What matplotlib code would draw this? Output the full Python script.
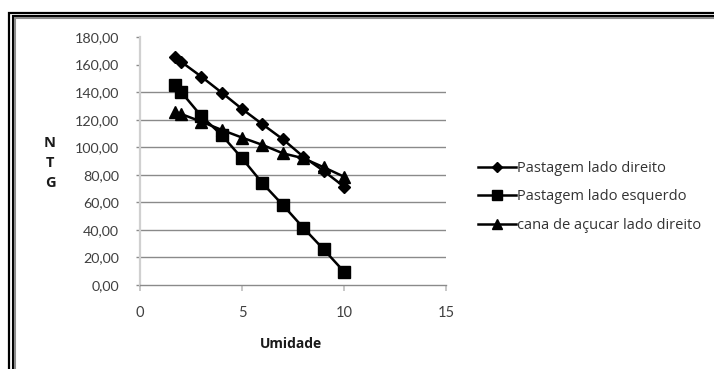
import matplotlib
matplotlib.use("Agg")
import matplotlib.pyplot as plt
from matplotlib.lines import Line2D

plt.rcParams['font.family'] = ['Lato', 'DejaVu Sans']

umidade = [1.7, 2, 3, 4, 5, 6, 7, 8, 9, 10]
pastagem_direito = [165.8, 162.2, 151.3, 139.7, 127.8, 116.7, 105.8, 93.2, 82.8, 71.4]
pastagem_esquerdo = [145.2, 140.4, 122.7, 108.9, 92.0, 73.9, 58.1, 41.6, 25.9, 9.7]
cana_direito = [125.9, 124.2, 118.6, 112.6, 107.0, 101.7, 95.6, 92.0, 85.5, 78.6]
series_names = ["Pastagem lado direito", "Pastagem lado esquerdo", "cana de açucar lado direito"]
y_ticks = [0, 20, 40, 60, 80, 100, 120, 140, 160, 180]
x_ticks = [0, 5, 10, 15]

W, H = 714, 369
fig = plt.figure(figsize=(W / 100, H / 100), dpi=100)
fig.patch.set_facecolor('white')

# double frame
def fline(xs, ys, color, lw):
    fig.add_artist(Line2D([x / W for x in xs], [1 - y / H for y in ys],
                          transform=fig.transFigure, color=color, lw=lw,
                          solid_capstyle='butt', solid_joinstyle='miter'))

fline([9, 9, 720], [380, 13, 13], 'black', 1.6)
fline([13, 13, 720], [380, 16, 16], 'black', 1.5)
fline([15.2, 15.2, 720], [380, 18.2, 18.2], '#8c8c8c', 1.5)

left, right, top, bottom = 140, 446, 37, 285
ax = fig.add_axes([left / W, 1 - bottom / H, (right - left) / W, (bottom - top) / H])
ax.set_facecolor('white')

ax.plot(umidade, pastagem_direito, color='black', lw=1.8, marker='D', markersize=6,
        label=series_names[0], clip_on=False, zorder=3)
ax.plot(umidade, pastagem_esquerdo, color='black', lw=1.8, marker='s', markersize=9.2,
        label=series_names[1], clip_on=False, zorder=3)
ax.plot(umidade, cana_direito, color='black', lw=1.8, marker='^', markersize=8,
        label=series_names[2], clip_on=False, zorder=3)

ax.set_xlim(0, 15)
ax.set_ylim(0, 180)
ax.set_xticks(x_ticks)
ax.set_xticklabels([str(v) for v in x_ticks])
ax.set_yticks(y_ticks)
ax.set_yticklabels([f"{v:.2f}".replace('.', ',') for v in y_ticks])

for s in ['top', 'right']:
    ax.spines[s].set_visible(False)
ax.spines['left'].set_color('#d0d0d0')
ax.spines['left'].set_linewidth(1.6)
ax.spines['bottom'].set_color('#8a8a8a')
ax.spines['bottom'].set_linewidth(1.0)

ax.tick_params(axis='x', direction='out', length=4, width=1.4, color='#c8c8c8',
               pad=11, labelsize=10.5, labelcolor='#404040')
ax.tick_params(axis='y', direction='out', length=3, width=1.0, color='#8a8a8a',
               pad=12, labelsize=10.3, labelcolor='#404040')

ax.yaxis.grid(True, color='#8a8a8a', lw=1.0)
ax.set_axisbelow(True)
ticks = ax.yaxis.get_major_ticks()
for i, v in enumerate(y_ticks):
    if v >= 160 or v == 0:
        ticks[i].gridline.set_visible(False)

fig.text(291 / W, 1 - 344 / H, "Umidade", ha='center', va='center',
         fontsize=10, fontweight='bold', color='#1a1a1a', family='Open Sans')
fig.text(50 / W, 1 - 163 / H, "N\nT\nG", ha='center', va='center',
         fontsize=10.5, fontweight='bold', color='#1a1a1a', linespacing=1.55,
         family='Open Sans')

leg = ax.legend(loc='center left', bbox_to_anchor=(478 / W, 1 - 197 / H),
                bbox_transform=fig.transFigure, frameon=False,
                prop={'family': 'Open Sans', 'size': 10.5},
                handlelength=2.6, handletextpad=0.1, labelspacing=0.95,
                borderpad=0, borderaxespad=0)
for t in leg.get_texts():
    t.set_color('#333333')
for h in leg.legend_handles:
    h.set_markersize(h.get_markersize() * 0.85)

fig.savefig('out.png', dpi=100, facecolor='white')
